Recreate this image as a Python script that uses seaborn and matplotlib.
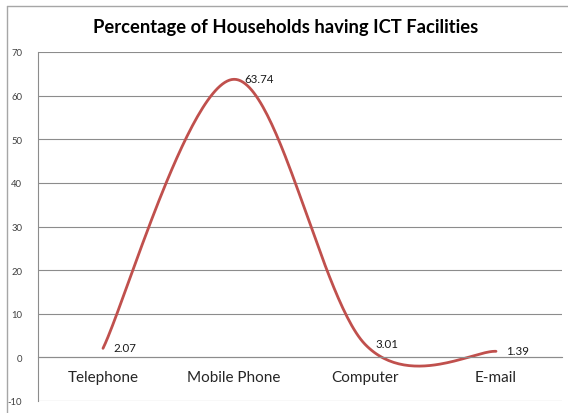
import numpy as np
import pandas as pd
import matplotlib
matplotlib.use("Agg")
import matplotlib.pyplot as plt
import seaborn as sns
from matplotlib.lines import Line2D

categories = ["Telephone", "Mobile Phone", "Computer", "E-mail"]
values = [2.07, 63.74, 3.01, 1.39]
value_labels = ["2.07", "63.74", "3.01", "1.39"]
yticks = [-10, 0, 10, 20, 30, 40, 50, 60, 70]

sns.set_theme(style="white")
plt.rcParams["font.family"] = ["Lato", "DejaVu Sans"]

# Excel-like smoothed line (Catmull-Rom Bezier)
xs = np.arange(len(values), dtype=float)
ys = np.array(values, dtype=float)
px, py = [], []
n = len(xs)
t = np.linspace(0, 1, 60)
for i in range(n - 1):
    p0 = np.array([xs[max(i - 1, 0)], ys[max(i - 1, 0)]])
    p1 = np.array([xs[i], ys[i]])
    p2 = np.array([xs[i + 1], ys[i + 1]])
    p3 = np.array([xs[min(i + 2, n - 1)], ys[min(i + 2, n - 1)]])
    c1 = p1 + (p2 - p0) / 6.0
    c2 = p2 - (p3 - p1) / 6.0
    for tt in (t if i == 0 else t[1:]):
        b = ((1 - tt) ** 3) * p1 + 3 * ((1 - tt) ** 2) * tt * c1 + 3 * (1 - tt) * tt ** 2 * c2 + tt ** 3 * p2
        px.append(b[0]); py.append(b[1])
curve = pd.DataFrame({"x": px, "y": py})

fig = plt.figure(figsize=(5.68, 4.14), dpi=100)
ax = fig.add_axes([37.5 / 568, 1 - 402 / 414, (561.5 - 37.5) / 568, (402 - 53) / 414])

sns.lineplot(data=curve, x="x", y="y", ax=ax, color="#C0504D", linewidth=2.0, sort=False, estimator=None)

ax.set_xlim(-0.5, len(categories) - 0.5)
ax.set_ylim(-10, 70)
ax.set_yticks(yticks)
ax.set_yticklabels([str(v) for v in yticks], fontsize=6.8, color="#404040")
ax.set_xticks(xs)
ax.set_xticklabels(categories, fontsize=10.5, color="#1a1a1a")
ax.tick_params(axis="x", length=0, pad=9)
ax.tick_params(axis="y", length=0, pad=11)
ax.set_xlabel("")
ax.set_ylabel("")

ax.yaxis.grid(True, color="#8c8c8c", linewidth=0.8)
ax.set_axisbelow(True)
for s in ["top", "right"]:
    ax.spines[s].set_visible(False)
ax.spines["left"].set_color("#8c8c8c")
ax.spines["left"].set_linewidth(0.8)
ax.spines["bottom"].set_position(("data", 0))
ax.spines["bottom"].set_color("#8c8c8c")
ax.spines["bottom"].set_linewidth(0.8)

for xi, yi, lab in zip(xs, ys, value_labels):
    ax.annotate(lab, (xi, yi), xytext=(7.5, 0.5), textcoords="offset points",
                ha="left", va="center", fontsize=8.3, color="#1a1a1a")

fig.text(286 / 568, 1 - 28 / 414, "Percentage of Households having ICT Facilities",
         ha="center", va="center", fontsize=13.2, fontweight="bold", color="black")

# outer chart border (left and top visible)
fig.add_artist(Line2D([6.5 / 568, 6.5 / 568], [0, 1 - 6.5 / 414], transform=fig.transFigure, color="#a6a6a6", linewidth=1))
fig.add_artist(Line2D([6.5 / 568, 1], [1 - 6.5 / 414, 1 - 6.5 / 414], transform=fig.transFigure, color="#a6a6a6", linewidth=1))

fig.savefig("out.png", dpi=100, facecolor="white")
